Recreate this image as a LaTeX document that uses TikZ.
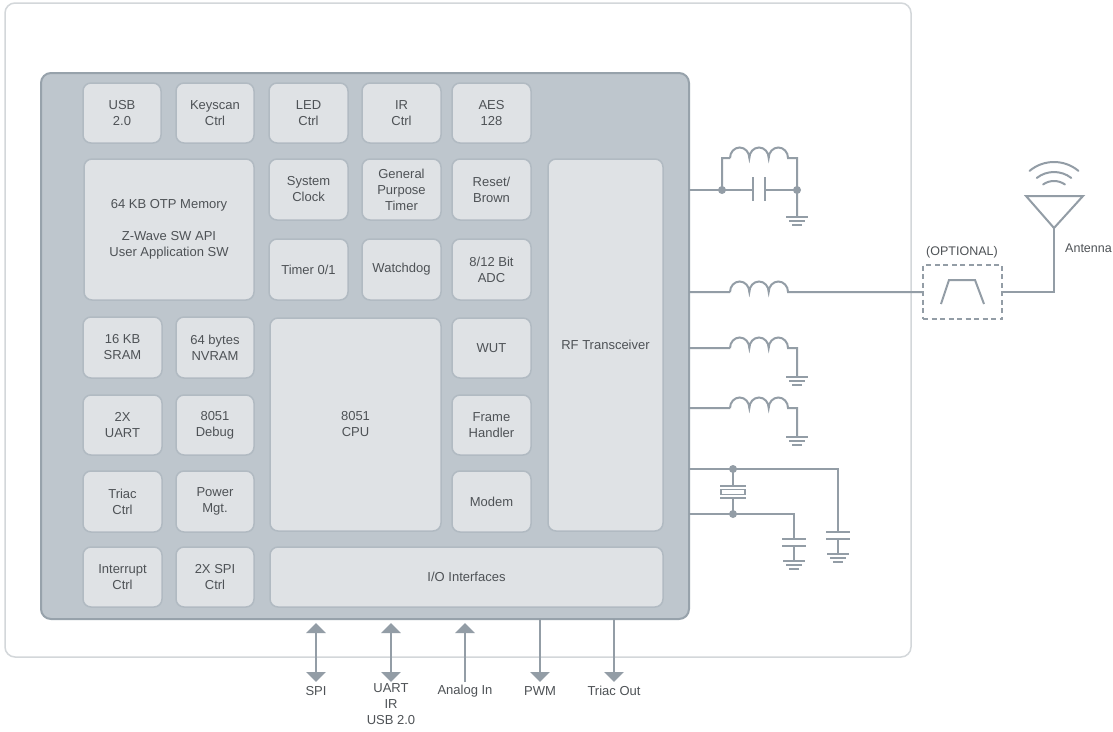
\documentclass[tikz,border=0pt]{standalone}
\usepackage{fontspec}
\setmainfont{Liberation Sans}
\usetikzlibrary{arrows.meta}
\definecolor{framec}{HTML}{D3D7DA}
\definecolor{chipf}{HTML}{BEC6CD}
\definecolor{chipd}{HTML}{97A2AB}
\definecolor{blkf}{HTML}{DFE2E5}
\definecolor{blkd}{HTML}{B1BAC2}
\definecolor{wirec}{HTML}{939DA6}
\definecolor{txtc}{HTML}{4E5256}
\tikzset{
  blk/.style={draw=blkd, fill=blkf, line width=1.5pt, rounded corners=8pt, align=center,
    text=txtc, font=\fontsize{13}{16}\selectfont, inner sep=0pt},
  chipbox/.style={draw=chipd, fill=chipf, line width=2pt, rounded corners=10pt},
  wire/.style={draw=wirec, line width=2pt},
  jdot/.style={fill=wirec},
  lbl/.style={text=txtc, font=\fontsize{13}{16}\selectfont, align=center, inner sep=0pt},
  arr/.style={draw=wirec, line width=2.6pt, arrows={-Triangle[width=19pt,length=10pt]}},
  arrb/.style={draw=wirec, line width=2.6pt, arrows={Triangle[width=19pt,length=10pt]-Triangle[width=19pt,length=10pt]}},
}
\newcommand\blk[6]{\node[blk, minimum width={#4-#2}, minimum height={#5-#3}] (#1) at ({(#2+#4)/2},{(#3+#5)/2}) {#6};}
\newcommand\gnd[2]{\draw[wire, line width=1.8pt] (#1-11,#2) -- (#1+11,#2) (#1-8,#2+4) -- (#1+8,#2+4) (#1-5,#2+8) -- (#1+5,#2+8);}
\newcommand\coil[2]{(#1,#2) arc[start angle=180,end angle=0,x radius=9.67pt,y radius=10.5pt] arc[start angle=180,end angle=0,x radius=9.67pt,y radius=10.5pt] arc[start angle=180,end angle=0,x radius=9.67pt,y radius=10.5pt]}
\begin{document}
\begin{tikzpicture}[x=1pt,y=-1pt]
\useasboundingbox (0,0) rectangle (1113,731);
\fill[white] (0,0) rectangle (1113,731);
% outer frame
\draw[framec, line width=1.5pt, rounded corners=10pt] (5,3) rectangle (911,657);
% chip
\node[chipbox, minimum width=648, minimum height=546] (chip) at (365,346) {};
% blocks
\blk{usb}{83}{83}{161}{143}{USB\\2.0}
\blk{keyscan}{176}{83}{254}{143}{Keyscan\\Ctrl}
\blk{led}{269}{83}{348}{143}{LED\\Ctrl}
\blk{ir}{362}{83}{441}{143}{IR\\Ctrl}
\blk{aes}{452}{83}{531}{143}{AES\\128}
\blk{mem}{84}{159}{254}{300}{64 KB OTP Memory\\[16pt]Z-Wave SW API\\User Application SW}
\blk{sysclk}{269}{159}{348}{220}{System\\Clock}
\blk{gpt}{362}{159}{441}{220}{General\\Purpose\\Timer}
\blk{reset}{452}{159}{531}{220}{Reset/\\Brown}
\blk{timer}{269}{239}{348}{300}{Timer 0/1}
\blk{wdog}{362}{239}{441}{300}{Watchdog}
\blk{adc}{452}{239}{531}{300}{8/12 Bit\\ADC}
\blk{rf}{548}{159}{663}{531}{RF Transceiver}
\blk{sram}{83}{317}{162}{378}{16 KB\\SRAM}
\blk{nvram}{176}{317}{254}{378}{64 bytes\\NVRAM}
\blk{cpu}{270}{318}{441}{531}{8051\\CPU}
\blk{wut}{452}{318}{531}{378}{WUT}
\blk{uart}{83}{395}{162}{455}{2X\\UART}
\blk{debug}{176}{395}{254}{455}{8051\\Debug}
\blk{frame}{452}{395}{531}{455}{Frame\\Handler}
\blk{triac}{83}{471}{162}{532}{Triac\\Ctrl}
\blk{power}{176}{471}{254}{532}{Power\\Mgt.}
\blk{modem}{452}{471}{531}{532}{Modem}
\blk{intr}{83}{547}{162}{607}{Interrupt\\Ctrl}
\blk{spi}{176}{547}{254}{607}{2X SPI\\Ctrl}
\blk{io}{270}{547}{663}{607}{I/O Interfaces}
% circuit 1: LC tank
\draw[wire] (689,190) -- (753,190) (765,190) -- (797,190);
\draw[wire] (753,177) -- (753,201) (765,177) -- (765,201);
\draw[wire] (722,190) -- (722,158) -- (730,158) \coil{730}{158} -- (797,158) -- (797,217);
\fill[jdot] (722,190) circle[radius=4pt] (797,190) circle[radius=4pt];
\gnd{797}{217}
% circuit 2: series inductor, filter, antenna
\draw[wire] (689,292) -- (730,292) \coil{730}{292} -- (923,292);
\node[draw=wirec, line width=1.5pt, dash pattern=on 5pt off 3.5pt, minimum width=79, minimum height=54, inner sep=0pt] (filt) at (962.5,292) {};
\draw[wire] (941,304) -- (949,280) -- (975,280) -- (984,304);
\node[lbl, font=\fontsize{12.5}{15}\selectfont] (opt) at (962,252) {(OPTIONAL)};
\draw[wire] (filt.east) -- (1054,292) -- (1054,228);
\draw[wire, line join=miter] (1026,196) -- (1083,196) -- (1054,228) -- cycle;
\draw[wire, line cap=round] (1054,200) ++(50:38pt) arc[start angle=50,end angle=130,radius=38pt];
\draw[wire, line cap=round] (1054,200) ++(52:28pt) arc[start angle=52,end angle=128,radius=28pt];
\draw[wire, line cap=round] (1054,200) ++(55:19pt) arc[start angle=55,end angle=125,radius=19pt];
\node[lbl, font=\fontsize{12.5}{15}\selectfont, anchor=west] (ant) at (1065,248) {Antenna};
% circuit 3 and 4
\draw[wire] (689,348) -- (730,348) \coil{730}{348} -- (797,348) -- (797,377);
\gnd{797}{377}
\draw[wire] (689,408) -- (730,408) \coil{730}{408} -- (797,408) -- (797,437);
\gnd{797}{437}
% circuit 5: crystal
\draw[wire] (689,469) -- (838,469) -- (838,532);
\draw[wire] (826,532) -- (850,532) (826,539) -- (850,539);
\draw[wire] (838,539) -- (838,554);
\gnd{838}{554}
\draw[wire] (733,469) -- (733,486);
\draw[wire] (720,486) -- (746,486) (720,498) -- (746,498);
\draw[wire, line width=1.8pt] (721,489.5) rectangle (745,494.5);
\draw[wire] (733,498) -- (733,514);
\fill[jdot] (733,469) circle[radius=4pt] (733,514) circle[radius=4pt];
\draw[wire] (689,514) -- (794,514) -- (794,539);
\draw[wire] (782,539) -- (806,539) (782,546) -- (806,546);
\draw[wire] (794,546) -- (794,561);
\gnd{794}{561}
% bottom labels
\node[lbl] (lspi) at (316,691) {SPI};
\node[lbl, anchor=north] (luart) at (391,683) {UART\\IR\\USB 2.0};
\node[lbl] (lana) at (465,691) {Analog In};
\node[lbl] (lpwm) at (540,691) {PWM};
\node[lbl] (ltri) at (614,691) {Triac Out};
% bottom arrows
\draw[arrb] (316,623) -- (316,682);
\draw[arrb] (391,623) -- (391,682);
\draw[arr] (465,682) -- (465,623);
\draw[arr] (540,619) -- (540,682);
\draw[arr] (614,619) -- (614,682);
\end{tikzpicture}
\end{document}
